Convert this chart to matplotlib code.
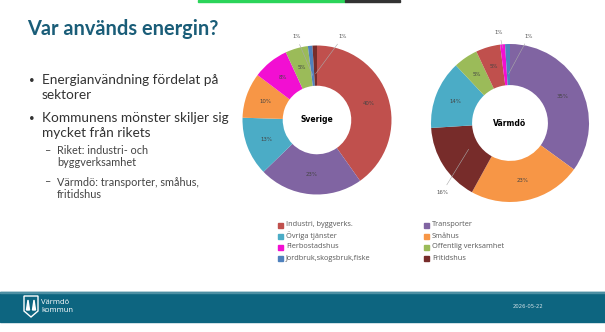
import matplotlib
matplotlib.use("Agg")
import matplotlib.pyplot as plt
from matplotlib.patches import Rectangle, Polygon
import numpy as np

# data
farger = {"Industri, byggverks.": "#c0504d", "Transporter": "#8064a2",
          "Övriga tjänster": "#4bacc6", "Småhus": "#f79646",
          "Flerbostadshus": "#f20fd2", "Offentlig verksamhet": "#9bbb59",
          "Jordbruk,skogsbruk,fiske": "#4f81bd", "Fritidshus": "#772c2a"}

sverige_kat = ["Industri, byggverks.", "Transporter", "Övriga tjänster", "Småhus",
               "Flerbostadshus", "Offentlig verksamhet", "Jordbruk,skogsbruk,fiske", "Fritidshus"]
sverige_val = [41, 23, 13, 10, 8, 5, 1, 1]

varmdo_kat = ["Transporter", "Småhus", "Fritidshus", "Övriga tjänster",
              "Offentlig verksamhet", "Industri, byggverks.", "Flerbostadshus",
              "Jordbruk,skogsbruk,fiske"]
varmdo_val = [35, 23, 16, 14, 5, 5, 1, 1]

leg1 = ["Industri, byggverks.", "Övriga tjänster", "Flerbostadshus", "Jordbruk,skogsbruk,fiske"]
leg2 = ["Transporter", "Småhus", "Offentlig verksamhet", "Fritidshus"]

W, H = 605, 332
fig = plt.figure(figsize=(W / 100, H / 100), dpi=100)
fig.patch.set_facecolor("white")


def px(x, y):
    return x / W, 1 - y / H


# top green bar
fig.patches.append(Rectangle(px(198, 2), 147 / W, 2 / H, transform=fig.transFigure,
                             color="#2bd45a", zorder=5))
fig.patches.append(Rectangle(px(345, 1.5), 55 / W, 1.5 / H, transform=fig.transFigure,
                             color="#333333", zorder=5))

# title and bullets
fig.text(*px(27, 29), "Var används energin?", fontsize=14.4, color="#1a5d78",
         family="Lato", fontweight="bold", va="center", ha="left")
fs1 = 9.8
fig.text(*px(29, 80), "•", fontsize=7, color="#333333", family="Lato", va="center")
fig.text(*px(42, 80), "Energianvändning fördelat på", fontsize=fs1, color="#333333",
         family="Lato", va="center")
fig.text(*px(42, 95), "sektorer", fontsize=fs1, color="#333333", family="Lato", va="center")
fig.text(*px(29, 118), "•", fontsize=7, color="#333333", family="Lato", va="center")
fig.text(*px(42, 118), "Kommunens mönster skiljer sig", fontsize=fs1, color="#333333",
         family="Lato", va="center")
fig.text(*px(42, 133), "mycket från rikets", fontsize=fs1, color="#333333",
         family="Lato", va="center")
fs2 = 7.8
for y in [151, 182]:
    fig.text(*px(44, y), "–", fontsize=fs2, color="#444444", family="Lato", va="center")
for y, s in [(151, "Riket: industri- och"), (163, "byggverksamhet"),
             (182, "Värmdö: transporter, småhus,"), (194, "fritidshus")]:
    fig.text(*px(57, y), s, fontsize=fs2, color="#444444", family="Lato", va="center")


def donut(cx, cy, r, vals, kats, namn, inner, utanfor):
    ax = fig.add_axes([(cx - r) / W, 1 - (cy + r) / H, 2 * r / W, 2 * r / H])
    wedges, _ = ax.pie(vals, colors=[farger[k] for k in kats], startangle=90,
                       counterclock=False, radius=1,
                       wedgeprops=dict(width=1 - inner, edgecolor="none"))
    ax.set_xlim(-1, 1)
    ax.set_ylim(-1, 1)
    ax.set_aspect("equal")
    ax.axis("off")
    ax.text(0, 0, namn, ha="center", va="center", fontsize=5.5, fontweight="bold",
            family="DejaVu Sans")
    tot = sum(vals)
    for w, v, k in zip(wedges, vals, kats):
        ang = np.deg2rad((w.theta1 + w.theta2) / 2)
        pct = "%d%%" % round(100 * v / tot)
        if k in utanfor:
            lx, ly, rr = utanfor[k]
            ex, ey = rr * np.cos(ang), rr * np.sin(ang)
            ax.annotate(pct, xy=(ex, ey), xytext=(lx, ly), fontsize=3.9, color="#555555",
                        ha="center", va="center", annotation_clip=False,
                        arrowprops=dict(arrowstyle="-", color="#aaaaaa", lw=0.4,
                                        shrinkA=2, shrinkB=0))
        else:
            rm = (1 + inner) / 2
            ax.text(rm * np.cos(ang), rm * np.sin(ang), pct, ha="center", va="center",
                    fontsize=3.9, color="#444444")
    return ax


donut(317, 120, 74.5, sverige_val, sverige_kat, "Sverige", 0.46,
      {"Jordbruk,skogsbruk,fiske": (-0.28, 1.12, 0.6),
       "Fritidshus": (0.35, 1.12, 0.62)})
donut(510, 123, 79, varmdo_val, varmdo_kat, "Värmdö", 0.48,
      {"Flerbostadshus": (-0.14, 1.15, 0.95),
       "Jordbruk,skogsbruk,fiske": (0.24, 1.1, 0.62),
       "Fritidshus": (-0.86, -0.88, 0.62)})

# legend
for x0, items in [(280, leg1), (426, leg2)]:
    for i, k in enumerate(items):
        y = 225 + i * 11
        fig.patches.append(Rectangle(px(x0 - 2.5, y + 2.5), 5 / W, 5 / H,
                                     transform=fig.transFigure, color=farger[k]))
        fig.text(*px(x0 + 6, y), k, fontsize=5.3, color="#595959", va="center",
                 family="Open Sans")

# footer
fig.patches.append(Rectangle(px(0, 322), 1, 30 / H, transform=fig.transFigure,
                             color="#0d6580", zorder=1))
fig.patches.append(Rectangle(px(0, 293), 1, 1 / H, transform=fig.transFigure,
                             color="#4d8fa3", zorder=2))
sk = Polygon([px(24, 296), px(38, 296), px(38, 311), px(31, 317), px(24, 311)],
             closed=True, transform=fig.transFigure, facecolor="none",
             edgecolor="white", lw=1.0, zorder=3)
fig.patches.append(sk)
fig.patches.append(Polygon([px(26.5, 310), px(28, 300), px(29.5, 310)], closed=True,
                           transform=fig.transFigure, color="white", zorder=3))
fig.patches.append(Polygon([px(32.5, 310), px(34, 300), px(35.5, 310)], closed=True,
                           transform=fig.transFigure, color="white", zorder=3))
fig.text(*px(41, 302), "Värmdö", fontsize=5.5, color="white", va="center",
         family="Open Sans")
fig.text(*px(41, 311), "kommun", fontsize=5.5, color="white", va="center",
         family="Open Sans")
fig.text(*px(513, 307), "2026-05-22", fontsize=3.8, color="#d0e0e6", va="center")

fig.savefig("out.png", dpi=100, facecolor="white")
